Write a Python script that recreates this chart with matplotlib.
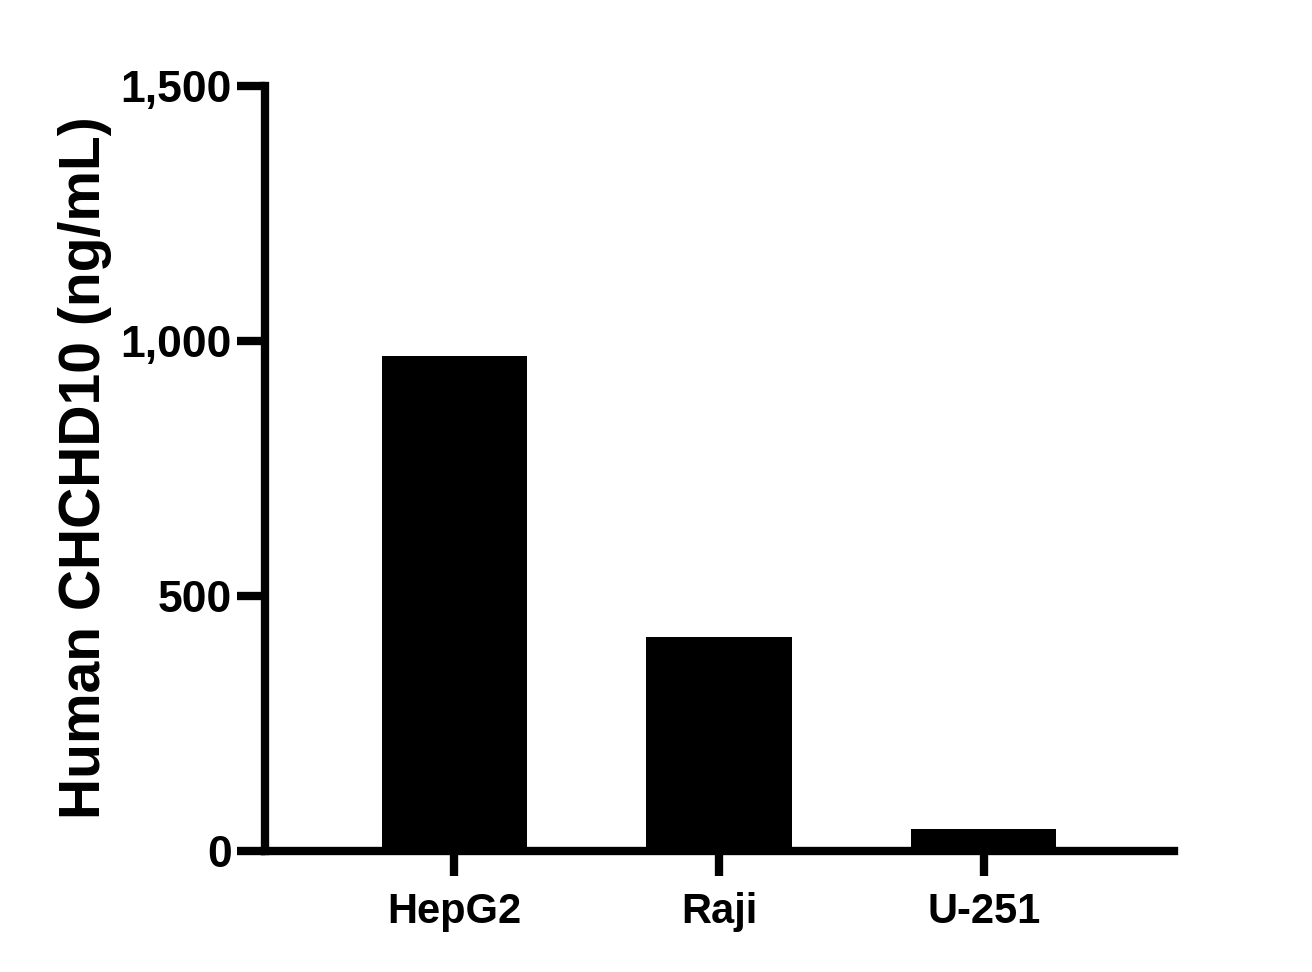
import matplotlib
matplotlib.use('Agg')
import matplotlib.pyplot as plt

CELLS = ['HepG2', 'Raji', 'U-251']
VALUES = [970, 418, 43]
YTICKS = [0, 500, 1000, 1500]
YLABELS = ['0', '500', '1,000', '1,500']

plt.rcParams['font.family'] = ['Liberation Sans', 'DejaVu Sans']
plt.rcParams['font.weight'] = 'bold'

fig = plt.figure(figsize=(13.12, 9.72), dpi=100)
ax = fig.add_axes([0.202, 0.125, 0.693, 0.787])

x = range(len(CELLS))
ax.bar(x, VALUES, width=0.55, color='black')

ax.set_xlim(-0.716, 2.72)
ax.set_ylim(0, 1500)
ax.set_xticks(list(x))
ax.set_xticklabels(CELLS, fontsize=30, fontweight='bold')
ax.set_yticks(YTICKS)
ax.set_yticklabels(YLABELS, fontsize=32, fontweight='bold')
ax.set_ylabel('Human CHCHD10 (ng/mL)', fontsize=41, fontweight='bold')
ax.yaxis.set_label_coords(-0.168, 0.5)

for s in ['top', 'right']:
	ax.spines[s].set_visible(False)
for s in ['left', 'bottom']:
	ax.spines[s].set_linewidth(6)
	ax.spines[s].set_capstyle('projecting')
ax.tick_params(axis='y', length=20, width=6, pad=4)
ax.tick_params(axis='x', length=18, width=6, pad=12)

fig.savefig('out.png', dpi=100)
